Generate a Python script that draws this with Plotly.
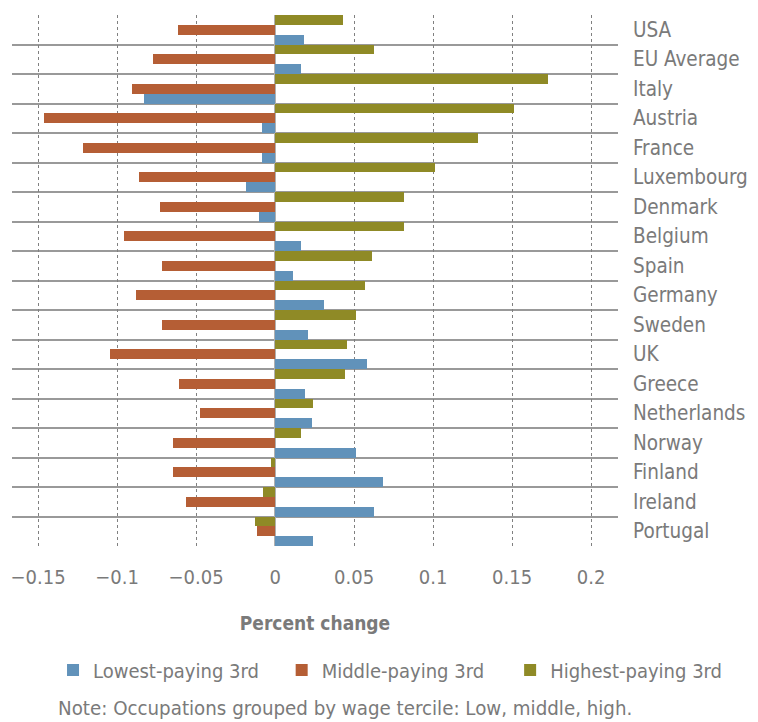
import plotly.graph_objects as go

countries = ["USA", "EU Average", "Italy", "Austria", "France", "Luxembourg", "Denmark",
             "Belgium", "Spain", "Germany", "Sweden", "UK", "Greece", "Netherlands",
             "Norway", "Finland", "Ireland", "Portugal"]
lowest = [0.0186, 0.0163, -0.0831, -0.0084, -0.0084, -0.0185, -0.0103, 0.0163, 0.0112,
          0.0308, 0.0207, 0.058, 0.0188, 0.0232, 0.0511, 0.0682, 0.0625, 0.0239]
middle = [-0.0616, -0.0774, -0.0907, -0.1464, -0.1217, -0.0863, -0.073, -0.0958, -0.0717,
          -0.0882, -0.0717, -0.1046, -0.061, -0.0477, -0.0648, -0.0648, -0.0565, -0.0116]
highest = [0.0427, 0.0623, 0.1724, 0.1509, 0.1281, 0.1009, 0.0815, 0.0815, 0.0612,
           0.0568, 0.0511, 0.0454, 0.0441, 0.0239, 0.0163, -0.0027, -0.0078, -0.0128]
series_names = ["Lowest-paying 3rd", "Middle-paying 3rd", "Highest-paying 3rd"]
colors = ["#6192ba", "#b55e35", "#8f8a26"]
x_ticks = [-0.15, -0.1, -0.05, 0, 0.05, 0.1, 0.15, 0.2]

n = len(countries)
ypos = [n - 1 - i for i in range(n)]

FONT = "DejaVu Sans Condensed, sans-serif"
GRAY = "#7a7a7a"

legend_ids = ["legend", "legend2", "legend3"]
legend_x = [0.0677, 0.445, 0.822]

fig = go.Figure()
for name, vals, col, lid in zip(series_names, [lowest, middle, highest], colors, legend_ids):
    fig.add_trace(go.Bar(y=ypos, x=vals, name=name, orientation="h", legend=lid,
                         marker=dict(color=col, line=dict(width=0))))

legend_common = dict(orientation="h", y=-0.2335, yanchor="middle", xanchor="left",
                     font=dict(size=20, color=GRAY, family=FONT), bgcolor="rgba(0,0,0,0)")

fig.update_layout(
    width=750, height=714,
    margin=dict(l=4, r=140, t=7, b=176),
    barmode="group", bargap=0, bargroupgap=0,
    plot_bgcolor="white", paper_bgcolor="white",
    font=dict(family=FONT, color=GRAY, size=20),
    showlegend=True,
    legend=dict(x=legend_x[0], **legend_common),
    legend2=dict(x=legend_x[1], **legend_common),
    legend3=dict(x=legend_x[2], **legend_common),
    xaxis=dict(range=[-0.1665, 0.217], tickvals=x_ticks, automargin=False,
               showgrid=True, gridcolor="#808080", griddash="3px,3px", gridwidth=1,
               zeroline=True, zerolinecolor="#b0b0b0", zerolinewidth=2,
               showline=False, ticks="", ticklabelstandoff=17,
               tickfont=dict(size=20, color=GRAY),
               title=dict(text="<b>Percent change</b>", font=dict(size=19, color=GRAY),
                          standoff=28)),
    yaxis=dict(range=[-0.5, n - 0.5], side="right", tickvals=ypos, ticktext=countries,
               automargin=False,
               showgrid=False, zeroline=False, showline=False, ticks="",
               ticklabelstandoff=14, tickfont=dict(size=20.5, color=GRAY),
               minor=dict(tickvals=[i - 0.5 for i in range(n + 1)], showgrid=True,
                          gridcolor="#999999", gridwidth=1.5, ticks="")),
)

fig.add_annotation(text="Note: Occupations grouped by wage tercile: Low, middle, high.",
                   xref="paper", yref="paper", x=(56 - 12) / 606, xanchor="left",
                   y=-0.306, yanchor="middle", showarrow=False,
                   font=dict(size=20.3, color=GRAY, family=FONT))

fig.write_html("out.html")
